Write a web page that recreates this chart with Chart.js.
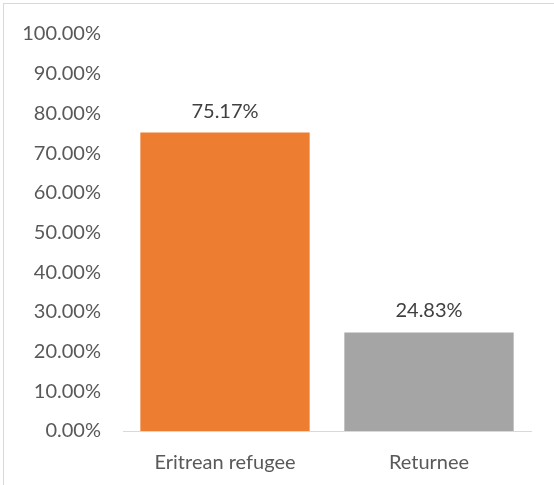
<!DOCTYPE html>
<html>
<head>
<meta charset="utf-8">
<script src="https://cdn.jsdelivr.net/npm/chart.js@4/dist/chart.umd.min.js"></script>
<style>
html,body{margin:0;padding:0;background:#fff;}
#wrap{position:absolute;left:0;top:0;width:554px;height:485px;}
#frame{position:absolute;left:3px;top:3px;width:560px;height:500px;border-left:1px solid #d9d9d9;border-top:1px solid #d9d9d9;pointer-events:none;}
</style>
</head>
<body>
<div id="wrap"><canvas id="c" width="554" height="485"></canvas><div id="frame"></div></div>
<script>
const categories = ["Eritrean refugee", "Returnee"];
const values = [0.7517, 0.2483];
const barColors = ["#ED7D31", "#A5A5A5"];
const yTicks = [0, 0.1, 0.2, 0.3, 0.4, 0.5, 0.6, 0.7, 0.8, 0.9, 1.0];

const FONT = "Lato, 'Open Sans', sans-serif";

const labelPlugin = {
  id: 'barLabels',
  afterDatasetsDraw(chart) {
    const ctx = chart.ctx;
    const meta = chart.getDatasetMeta(0);
    ctx.save();
    ctx.font = "20px " + FONT;
    ctx.fillStyle = "#404040";
    ctx.textAlign = "center";
    ctx.textBaseline = "alphabetic";
    meta.data.forEach((bar, i) => {
      const v = chart.data.datasets[0].data[i];
      ctx.fillText((v * 100).toFixed(2) + "%", bar.x, bar.y - 15);
    });
    ctx.restore();
  }
};

new Chart(document.getElementById('c'), {
  type: 'bar',
  data: {
    labels: categories,
    datasets: [{
      data: values,
      backgroundColor: barColors,
      borderWidth: 0,
      barPercentage: 0.83,
      categoryPercentage: 1.0
    }]
  },
  options: {
    responsive: false,
    animation: false,
    devicePixelRatio: 1,
    layout: { padding: { top: 33, right: 23, left: 0, bottom: 0 } },
    plugins: { legend: { display: false }, tooltip: { enabled: false } },
    scales: {
      x: {
        grid: { display: false, drawTicks: false },
        border: { display: true, color: "#d9d9d9", width: 1 },
        ticks: { color: "#595959", font: { family: FONT, size: 20 }, padding: 20 },
        afterFit(scale) { scale.height = 54; }
      },
      y: {
        min: 0, max: 1,
        afterBuildTicks(scale) { scale.ticks = yTicks.map(v => ({ value: v })); },
        grid: { display: false, drawTicks: false },
        border: { display: false },
        ticks: {
          color: "#595959",
          font: { family: FONT, size: 20 },
          padding: 22,
          callback: v => (v * 100).toFixed(2) + "%"
        },
        afterFit(scale) { scale.width = 123; }
      }
    }
  },
  plugins: [labelPlugin]
});
</script>
</body>
</html>
